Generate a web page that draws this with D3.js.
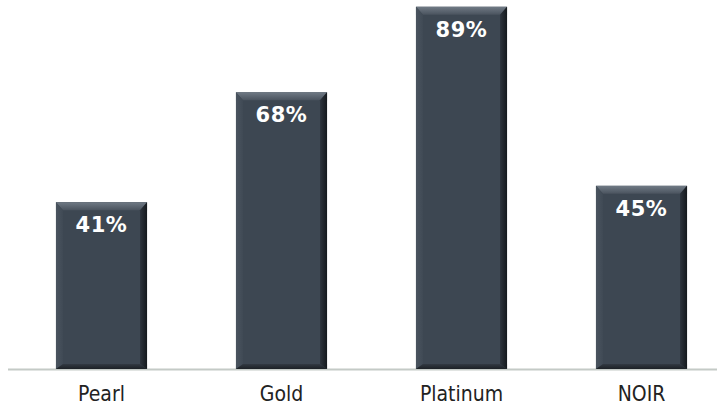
<!DOCTYPE html>
<html>
<head>
<meta charset="utf-8">
<script src="https://cdn.jsdelivr.net/npm/d3@7"></script>
<style>
  body { margin: 0; background: #fff; }
  svg { display: block; }
</style>
</head>
<body>
<div id="vis"></div>
<script>
var categories = ["Pearl", "Gold", "Platinum", "NOIR"];
var values = [41, 68, 89, 45];

var width = 717, height = 408;
var baseline = 369;
var bevel = 7;

var svg = d3.select("#vis")
  .append("svg")
  .attr("width", width)
  .attr("height", height);

var scales = {
  x: d3.scaleBand().domain(categories).range([11.5, 731.5]).paddingInner(0.494).paddingOuter(0.247),
  y: d3.scaleLinear().domain([0, 100]).range([baseline, baseline - 407])
};

var defs = svg.append("defs");

var gTop = defs.append("linearGradient").attr("id", "g_top").attr("x1", 0).attr("y1", 0).attr("x2", 0).attr("y2", 1);
gTop.append("stop").attr("offset", "0%").attr("stop-color", "#707a85");
gTop.append("stop").attr("offset", "100%").attr("stop-color", "#4a535e");

var gRight = defs.append("linearGradient").attr("id", "g_right").attr("x1", 0).attr("y1", 0).attr("x2", 1).attr("y2", 0);
gRight.append("stop").attr("offset", "0%").attr("stop-color", "#2e353e");
gRight.append("stop").attr("offset", "100%").attr("stop-color", "#15191d");

var gBottom = defs.append("linearGradient").attr("id", "g_bottom").attr("x1", 0).attr("y1", 0).attr("x2", 0).attr("y2", 1);
gBottom.append("stop").attr("offset", "0%").attr("stop-color", "#333a43");
gBottom.append("stop").attr("offset", "100%").attr("stop-color", "#1c2126");

var gLeft = defs.append("linearGradient").attr("id", "g_left").attr("x1", 0).attr("y1", 0).attr("x2", 1).attr("y2", 0);
gLeft.append("stop").attr("offset", "0%").attr("stop-color", "#4a545f");
gLeft.append("stop").attr("offset", "100%").attr("stop-color", "#404a55");

// axis line
svg.append("line")
  .attr("x1", 8).attr("x2", width)
  .attr("y1", baseline + 0.5).attr("y2", baseline + 0.5)
  .attr("stroke", "#c4cac6")
  .attr("stroke-width", 2);

var data = categories.map(function(c, i) { return { name: c, value: values[i] }; });

var bars = svg.selectAll(".bar")
  .data(data)
  .enter()
  .append("g")
  .attr("class", "bar");

function pts(arr) { return arr.map(function(p) { return p.join(","); }).join(" "); }

bars.each(function(d) {
  var g = d3.select(this);
  var x0 = scales.x(d.name), x1 = x0 + scales.x.bandwidth();
  var y0 = scales.y(d.value), y1 = scales.y(0);
  var b = bevel;

  g.append("rect")
    .attr("x", x0).attr("y", y0)
    .attr("width", x1 - x0).attr("height", y1 - y0)
    .attr("fill", "#3d4752");

  g.append("polygon")
    .attr("points", pts([[x0, y0], [x1, y0], [x1 - b, y0 + b + 1], [x0 + b, y0 + b + 1]]))
    .attr("fill", "url(#g_top)");
  g.append("polygon")
    .attr("points", pts([[x0, y0], [x0 + b, y0 + b + 1], [x0 + b, y1 - b + 2], [x0, y1]]))
    .attr("fill", "url(#g_left)");
  g.append("polygon")
    .attr("points", pts([[x0, y1], [x0 + b, y1 - b + 2], [x1 - b, y1 - b + 2], [x1, y1]]))
    .attr("fill", "url(#g_bottom)");
  g.append("polygon")
    .attr("points", pts([[x1, y0], [x1, y1], [x1 - b, y1 - b + 2], [x1 - b, y0 + b + 1]]))
    .attr("fill", "url(#g_right)");

  g.append("text")
    .attr("x", (x0 + x1) / 2)
    .attr("y", y0 + 30)
    .attr("text-anchor", "middle")
    .attr("font-family", "DejaVu Sans, Verdana, sans-serif")
    .attr("font-weight", "bold")
    .attr("font-size", "21px")
    .attr("letter-spacing", "0.5px")
    .attr("fill", "#ffffff")
    .text(d.value + "%");
});

var x_axis = d3.axisBottom(scales.x).tickSize(0).tickPadding(17);
var ax = svg.append("g")
  .attr("class", "x_axis")
  .attr("transform", "translate(0," + baseline + ")")
  .call(x_axis);
ax.select(".domain").remove();
ax.selectAll("text")
  .attr("font-family", "DejaVu Sans Condensed, DejaVu Sans, sans-serif")
  .attr("font-size", "21px")
  .attr("fill", "#222");
</script>
</body>
</html>
